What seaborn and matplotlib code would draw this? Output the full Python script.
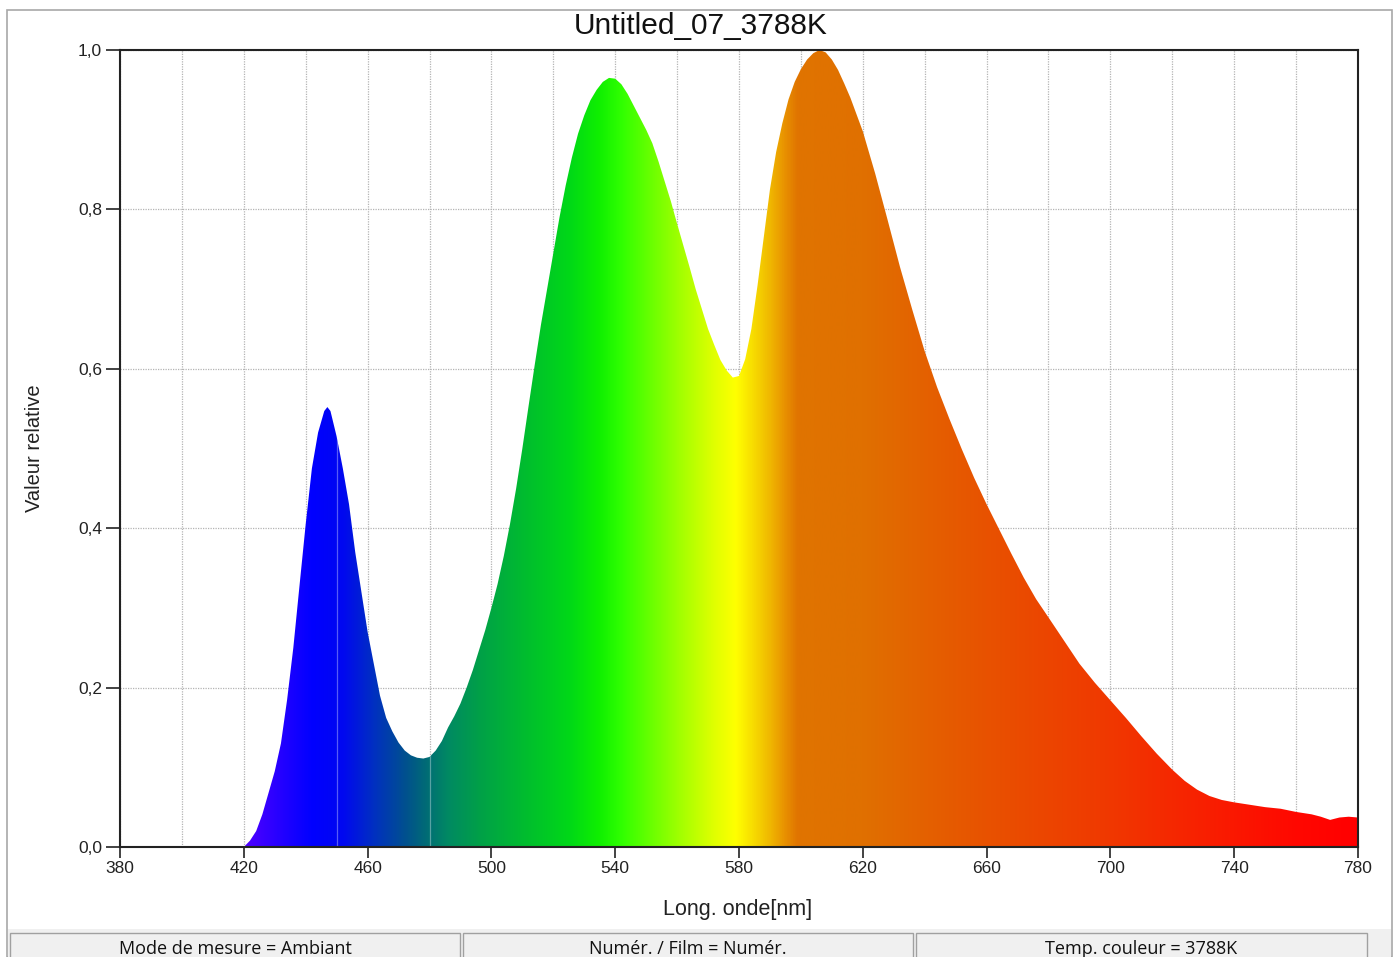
import numpy as np
import pandas as pd
import matplotlib
matplotlib.use("Agg")
import matplotlib.pyplot as plt
import seaborn as sns
from matplotlib.colors import LinearSegmentedColormap
from matplotlib.patches import Rectangle
from matplotlib.ticker import MultipleLocator

# ---------------- data ----------------
wavelength_nm = [
    420, 422, 424, 426, 428, 430, 432, 434, 436, 438, 440, 442, 444, 446, 447, 448,
    450, 452, 454, 456, 458, 460, 462, 464, 466, 468, 470, 472, 474, 476, 478, 480,
    482, 484, 486, 488, 490, 492, 494, 496, 498, 500, 502, 504, 506, 508, 510, 512,
    514, 516, 518, 520, 522, 524, 526, 528, 530, 532, 534, 536, 538, 540, 542, 544,
    546, 548, 550, 552, 554, 556, 558, 560, 562, 564, 566, 568, 570, 572, 574, 576,
    578, 580, 582, 584, 586, 588, 590, 592, 594, 596, 598, 600, 602, 604, 606, 608,
    610, 612, 614, 616, 618, 620, 624, 628, 632, 636, 640, 644, 648, 652, 656, 660,
    664, 668, 672, 676, 680, 685, 690, 695, 700, 705, 710, 715, 720, 724, 728, 732,
    736, 740, 745, 750, 755, 760, 765, 768, 771, 774, 777, 780,
]
relative_value = [
    0.000, 0.008, 0.020, 0.041, 0.068, 0.095, 0.130, 0.185, 0.250, 0.328, 0.405, 0.475, 0.520, 0.547, 0.552, 0.547,
    0.515, 0.475, 0.430, 0.370, 0.320, 0.270, 0.230, 0.190, 0.162, 0.145, 0.131, 0.121, 0.115, 0.112, 0.111, 0.113,
    0.121, 0.133, 0.150, 0.164, 0.180, 0.200, 0.222, 0.247, 0.272, 0.300, 0.330, 0.365, 0.405, 0.450, 0.500, 0.553,
    0.605, 0.655, 0.700, 0.745, 0.790, 0.830, 0.865, 0.895, 0.918, 0.937, 0.950, 0.960, 0.965, 0.964, 0.957, 0.945,
    0.930, 0.915, 0.900, 0.883, 0.860, 0.835, 0.810, 0.782, 0.755, 0.728, 0.700, 0.675, 0.650, 0.630, 0.611, 0.598,
    0.589, 0.591, 0.612, 0.650, 0.705, 0.765, 0.825, 0.872, 0.908, 0.938, 0.960, 0.976, 0.988, 0.996, 1.000, 0.997,
    0.988, 0.975, 0.958, 0.940, 0.919, 0.898, 0.845, 0.787, 0.728, 0.674, 0.622, 0.577, 0.537, 0.499, 0.463, 0.430,
    0.399, 0.368, 0.338, 0.311, 0.288, 0.259, 0.230, 0.206, 0.184, 0.162, 0.139, 0.117, 0.097, 0.083, 0.072, 0.064,
    0.059, 0.056, 0.053, 0.050, 0.048, 0.044, 0.041, 0.038, 0.034, 0.037, 0.038, 0.037,
]

x_ticks = [380, 420, 460, 500, 540, 580, 620, 660, 700, 740, 780]
y_ticks = [0.0, 0.2, 0.4, 0.6, 0.8, 1.0]
y_tick_labels = ["0,0", "0,2", "0,4", "0,6", "0,8", "1,0"]

title = "Untitled_07_3788K"
x_label = "Long. onde[nm]"
y_label = "Valeur relative"
status_texts = ["Mode de mesure = Ambiant", "Numér. / Film = Numér.", "Temp. couleur = 3788K"]

# spectral colour stops (nm, colour)
spectrum_stops_nm = [380, 420, 435, 442, 452, 462, 472, 478, 486, 496, 510, 525, 535, 542,
                     552, 562, 572, 579, 584, 590, 595, 599, 620, 660, 700, 730, 760, 780]
spectrum_colors = ["#6000ff", "#5000ff", "#1800ff", "#0000ff", "#0008f0", "#0030c0", "#00508f",
                   "#006878", "#008a62", "#00a048", "#00bb30", "#00d818", "#10f000", "#30ff00",
                   "#6cff00", "#a8ff00", "#e0ff00", "#ffff00", "#f8e000", "#f0b800", "#e89000",
                   "#e07400", "#e07000", "#e85200", "#f03800", "#f82000", "#ff0800", "#ff0000"]
# faint seams visible through the coloured fill
fill_seams_nm = [450, 480]

df = pd.DataFrame({"wavelength": wavelength_nm, "value": relative_value})

# ---------------- figure ----------------
sns.set_theme(style="white")
plt.rcParams["font.family"] = ["Liberation Sans", "DejaVu Sans"]

W, H = 1397, 957
fig = plt.figure(figsize=(W / 100, H / 100), dpi=100)
fig.patch.set_facecolor("white")

ax = fig.add_axes([120 / W, 1 - 847 / H, (1358 - 120) / W, (847 - 50) / H])
ax.set_facecolor("white")

# curve (outline) via seaborn
sns.lineplot(data=df, x="wavelength", y="value", ax=ax, color="#e07000", linewidth=0, zorder=3)

# gradient fill clipped by the curve
xmin, xmax = 380, 780
lo, hi = min(spectrum_stops_nm), max(spectrum_stops_nm)
cmap = LinearSegmentedColormap.from_list(
    "spec", [((s - lo) / (hi - lo), c) for s, c in zip(spectrum_stops_nm, spectrum_colors)], N=1024)
grad = np.linspace(0, 1, 1600).reshape(1, -1)
im = ax.imshow(grad, extent=[lo, hi, 0, 1], aspect="auto", cmap=cmap, zorder=2,
               interpolation="bilinear")
poly = ax.fill_between(df["wavelength"], 0, df["value"], facecolor="none", edgecolor="none", zorder=2)
clip_path = poly.get_paths()[0]
im.set_clip_path(clip_path, transform=ax.transData)

seams = ax.vlines(fill_seams_nm, 0, 1, colors="white", linewidth=0.9, alpha=0.35, zorder=2.5)
seams.set_clip_path(clip_path, transform=ax.transData)

ax.set_xlim(xmin, xmax)
ax.set_ylim(0, 1)

# ticks and grid
ax.set_xticks(x_ticks)
ax.set_xticklabels([str(t) for t in x_ticks])
ax.xaxis.set_minor_locator(MultipleLocator(20))
ax.set_yticks(y_ticks)
ax.set_yticklabels(y_tick_labels)
ax.grid(True, which="both", axis="x", color="#b4b4b4", linestyle=(0, (1, 1)), linewidth=0.9, zorder=1)
ax.grid(True, which="major", axis="y", color="#b4b4b4", linestyle=(0, (1, 1)), linewidth=0.9, zorder=1)
ax.set_axisbelow(True)
ax.tick_params(axis="y", which="major", direction="out", length=10, width=1.2, color="#222222",
               labelsize=12.5, labelcolor="#222222", pad=3, left=True)
ax.tick_params(axis="x", which="major", direction="out", length=8, width=1.2, color="#222222",
               labelsize=12.5, labelcolor="#222222", pad=2, bottom=True)
ax.tick_params(axis="x", which="minor", length=0)
for s in ax.spines.values():
    s.set_color("#222222")
    s.set_linewidth(1.5)
    s.set_visible(True)

ax.set_xlabel("")
ax.set_ylabel("")
fig.text(701 / W, 1 - 26 / H, title, ha="center", va="center", fontsize=21.5, color="#111111")
fig.text(738 / W, 1 - 909 / H, x_label, ha="center", va="center", fontsize=15.5, color="#222222",
         family=["Liberation Sans Narrow", "Liberation Sans", "DejaVu Sans"])
fig.text(35 / W, 1 - 448 / H, y_label, ha="center", va="center", rotation=90, fontsize=14.5, color="#222222")

# outer frame
fig.add_artist(Rectangle((7 / W, 0), (1392 - 7) / W, 1 - 10 / H, transform=fig.transFigure,
                         fill=False, edgecolor="#a8a8a8", linewidth=1.2))

# status bar
fig.add_artist(Rectangle((8 / W, 0), (1391 - 8) / W, (957 - 929) / H, transform=fig.transFigure,
                         facecolor="#f0f0f0", edgecolor="none"))
boxes = [(10, 460), (463, 913), (916, 1367)]
for (x0, x1), txt in zip(boxes, status_texts):
    fig.add_artist(Rectangle((x0 / W, -0.01), (x1 - x0) / W, (957 - 933) / H + 0.01,
                             transform=fig.transFigure, facecolor="#f0f0f0",
                             edgecolor="#a0a0a0", linewidth=1.0))
    fig.text((x0 + x1) / 2 / W, 1 - 949 / H, txt, ha="center", va="center", fontsize=13,
             color="#111111", family=["Open Sans", "DejaVu Sans"])

fig.savefig("out.png", dpi=100)
